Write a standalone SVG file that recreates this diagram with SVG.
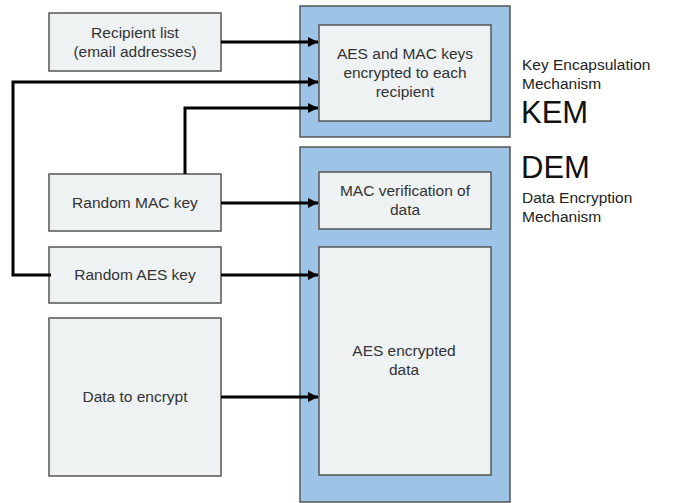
<svg xmlns="http://www.w3.org/2000/svg" width="673" height="503" viewBox="0 0 673 503">
<defs>
<marker id="ah" markerWidth="10" markerHeight="10" refX="10" refY="5" orient="auto" markerUnits="userSpaceOnUse">
<path d="M0,0 L10,5 L0,10 Z" fill="#000"/>
</marker>
<style>
.box{fill:#eff2f3;stroke:#555;stroke-width:1.5}
.outer{fill:#9dc3e6;stroke:#555;stroke-width:1.5}
.t{font-family:"Liberation Sans",Arial,sans-serif;font-size:15.5px;fill:#333;text-anchor:middle}
.side{font-family:"Liberation Sans",Arial,sans-serif;font-size:15.5px;fill:#222}
.big{font-family:"Liberation Sans",Arial,sans-serif;font-size:31px;fill:#111}
.c{fill:none;stroke:#000;stroke-width:3}
</style>
</defs>
<g id="kem">
<rect class="outer" x="300" y="6" width="210" height="131"/>
<rect class="box" x="319" y="25" width="172" height="96"/>
<text class="t" x="405" y="59">AES and MAC keys</text>
<text class="t" x="405" y="78">encrypted to each</text>
<text class="t" x="405" y="97">recipient</text>
</g>
<g id="dem">
<rect class="outer" x="300" y="147" width="210" height="355"/>
<rect class="box" x="319" y="172" width="172" height="57"/>
<text class="t" x="405" y="196">MAC verification of</text>
<text class="t" x="405" y="215">data</text>
<rect class="box" x="319" y="247" width="172" height="228"/>
<text class="t" x="404" y="356">AES encrypted</text>
<text class="t" x="404" y="375">data</text>
</g>
<g id="recipient">
<rect class="box" x="49" y="13" width="172" height="58"/>
<text class="t" x="135" y="38">Recipient list</text>
<text class="t" x="135" y="57">(email addresses)</text>
</g>
<g id="mackey">
<rect class="box" x="49" y="174" width="172" height="57"/>
<text class="t" x="135" y="208">Random MAC key</text>
</g>
<g id="aeskey">
<rect class="box" x="49" y="247" width="172" height="56"/>
<text class="t" x="135" y="280">Random AES key</text>
</g>
<g id="data">
<rect class="box" x="49" y="318" width="172" height="158"/>
<text class="t" x="135" y="402">Data to encrypt</text>
</g>
<g id="labels">
<text class="side" x="522" y="70">Key Encapsulation</text>
<text class="side" x="522" y="89">Mechanism</text>
<text class="big" x="521" y="123">KEM</text>
<text class="big" x="521" y="178">DEM</text>
<text class="side" x="522" y="203">Data Encryption</text>
<text class="side" x="522" y="222">Mechanism</text>
</g>
<g id="connectors">
<path class="c" d="M51,275 H13 V82 H318" marker-end="url(#ah)"/>
<path class="c" d="M185,174 V108 H318" marker-end="url(#ah)"/>
<path class="c" d="M221,42 H318" marker-end="url(#ah)"/>
<path class="c" d="M221,203 H318" marker-end="url(#ah)"/>
<path class="c" d="M221,275 H318" marker-end="url(#ah)"/>
<path class="c" d="M221,397 H318" marker-end="url(#ah)"/>
</g>
</svg>
